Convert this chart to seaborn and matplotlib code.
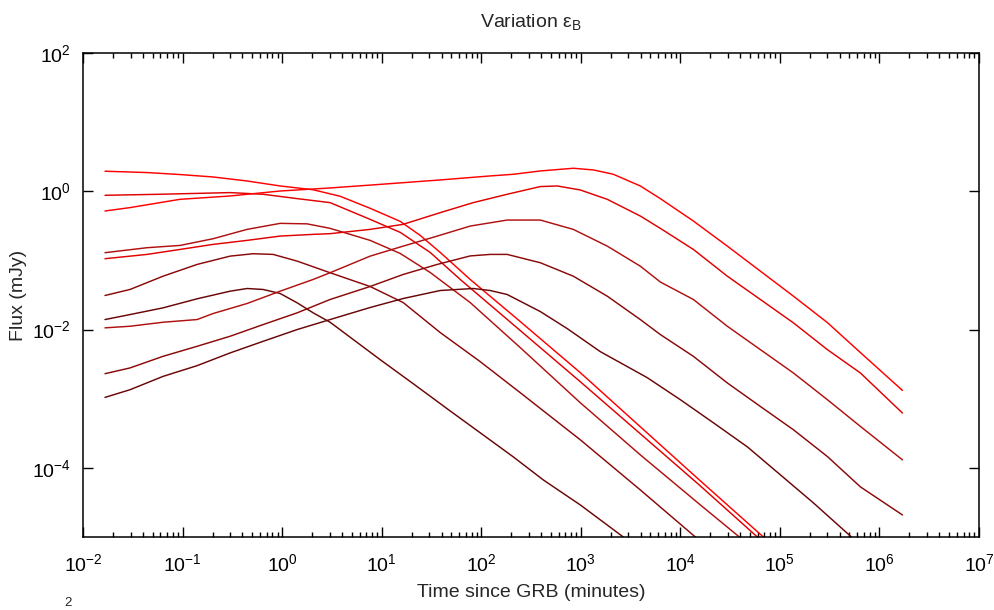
import numpy as np
import pandas as pd
import matplotlib
matplotlib.use("Agg")
import matplotlib.pyplot as plt
import seaborn as sns
from matplotlib.ticker import FixedLocator, FixedFormatter, LogLocator, NullFormatter, NullLocator

# ---- data: log10(time [min]) and log10(flux [mJy]) ----
# early-peaking family
logt_E1 = [-1.779, -1.357, -1.025, -0.693, -0.352, -0.020, 0.312, 0.583, 0.884, 1.186, 1.387, 1.588, 1.889, 2.392, 2.995, 3.598, 4.201, 4.834]
logf_E1 = [0.290, 0.271, 0.242, 0.207, 0.149, 0.077, 0.022, -0.072, -0.246, -0.435, -0.638, -0.884, -1.275, -1.884, -2.623, -3.406, -4.188, -5.0]

logt_E2 = [-1.779, -1.226, -0.523, -0.191, 0.151, 0.482, 0.884, 1.186, 1.487, 1.789, 2.392, 2.995, 3.598, 4.201, 4.774]
logf_E2 = [-0.058, -0.043, -0.019, -0.043, -0.106, -0.164, -0.406, -0.594, -0.884, -1.275, -2.014, -2.754, -3.507, -4.261, -5.0]

logt_E3 = [-1.779, -1.357, -1.025, -0.693, -0.352, -0.020, 0.251, 0.482, 0.884, 1.186, 1.487, 1.889, 2.392, 2.995, 3.598, 4.201, 4.593]
logf_E3 = [-0.888, -0.816, -0.783, -0.686, -0.551, -0.464, -0.471, -0.536, -0.710, -0.899, -1.174, -1.609, -2.261, -3.058, -3.812, -4.536, -5.0]

logt_E4 = [-1.779, -1.528, -1.196, -0.854, -0.523, -0.291, -0.090, 0.151, 0.482, 0.884, 1.216, 1.588, 1.990, 2.392, 2.995, 3.598, 4.151]
logf_E4 = [-1.507, -1.420, -1.228, -1.058, -0.938, -0.903, -0.913, -1.010, -1.178, -1.377, -1.609, -2.043, -2.464, -2.913, -3.594, -4.319, -5.0]

logt_E5 = [-1.779, -1.528, -1.196, -0.854, -0.523, -0.352, -0.191, -0.020, 0.151, 0.312, 0.482, 0.985, 1.317, 1.658, 1.990, 2.322, 2.623, 2.995, 3.427]
logf_E5 = [-1.855, -1.783, -1.686, -1.555, -1.445, -1.406, -1.420, -1.478, -1.613, -1.758, -1.894, -2.435, -2.783, -3.145, -3.493, -3.841, -4.174, -4.536, -5.0]

# late-peaking family
logt_L1 = [-1.779, -1.528, -1.025, -0.523, -0.020, 0.482, 0.995, 1.588, 2.090, 2.322, 2.593, 2.925, 3.126, 3.327, 3.598, 3.799, 4.131, 4.472, 4.804, 5.136, 5.477, 5.809, 6.231]
logf_L1 = [-0.285, -0.236, -0.116, -0.068, 0.004, 0.048, 0.101, 0.164, 0.222, 0.246, 0.294, 0.333, 0.309, 0.246, 0.077, -0.106, -0.430, -0.793, -1.155, -1.517, -1.899, -2.333, -2.880]

logt_L2 = [-1.779, -1.357, -1.025, -0.693, -0.352, -0.020, 0.312, 0.482, 0.884, 1.216, 1.588, 1.920, 2.261, 2.593, 2.764, 2.995, 3.266, 3.598, 3.799, 4.131, 4.472, 4.804, 5.136, 5.477, 5.809, 6.231]
logf_L2 = [-0.975, -0.913, -0.841, -0.768, -0.710, -0.648, -0.623, -0.613, -0.551, -0.478, -0.309, -0.164, -0.043, 0.068, 0.077, 0.019, -0.116, -0.358, -0.536, -0.841, -1.228, -1.565, -1.903, -2.290, -2.628, -3.207]

logt_L3 = [-1.779, -1.528, -1.196, -0.854, -0.693, -0.352, -0.020, 0.312, 0.482, 0.884, 1.216, 1.558, 1.889, 2.261, 2.593, 2.925, 3.266, 3.598, 3.799, 4.131, 4.472, 4.804, 5.136, 5.477, 5.809, 6.231]
logf_L3 = [-1.975, -1.952, -1.894, -1.855, -1.768, -1.623, -1.445, -1.275, -1.178, -0.938, -0.793, -0.648, -0.503, -0.416, -0.416, -0.551, -0.793, -1.083, -1.312, -1.565, -1.952, -2.290, -2.628, -3.014, -3.401, -3.884]

logt_L4 = [-1.779, -1.528, -1.196, -0.854, -0.523, -0.191, 0.151, 0.482, 0.884, 1.216, 1.558, 1.889, 2.090, 2.261, 2.593, 2.925, 3.266, 3.598, 3.799, 4.131, 4.472, 4.804, 5.136, 5.477, 5.809, 6.231]
logf_L4 = [-2.638, -2.555, -2.387, -2.242, -2.097, -1.928, -1.758, -1.565, -1.377, -1.203, -1.058, -0.935, -0.913, -0.913, -1.033, -1.228, -1.517, -1.855, -2.072, -2.387, -2.772, -3.112, -3.449, -3.836, -4.275, -4.681]

logt_L5 = [-1.779, -1.528, -1.196, -0.854, -0.523, -0.191, 0.151, 0.482, 0.884, 1.216, 1.588, 1.920, 2.090, 2.261, 2.593, 2.864, 3.196, 3.668, 4.000, 4.332, 4.673, 5.005, 5.337, 5.719]
logf_L5 = [-2.981, -2.870, -2.677, -2.522, -2.338, -2.170, -2.000, -1.855, -1.681, -1.551, -1.435, -1.406, -1.435, -1.493, -1.739, -1.986, -2.319, -2.696, -3.014, -3.348, -3.696, -4.101, -4.507, -5.0]

curve_names = ["E1", "E2", "E3", "E4", "E5", "L1", "L2", "L3", "L4", "L5"]
curve_colors = {
    "E1": "#ff0000", "L1": "#ff0000",
    "E2": "#e00000", "L2": "#e00000",
    "E3": "#b01010", "L3": "#b01010",
    "E4": "#8a0808", "L4": "#8a0808",
    "E5": "#6a0505", "L5": "#6a0505",
}

x_tick_exps = [-2, -1, 0, 1, 2, 3, 4, 5, 6, 7]
y_tick_exps = [-4, -2, 0, 2]

# ---- build long-form table ----
series = {
    "E1": (logt_E1, logf_E1), "E2": (logt_E2, logf_E2), "E3": (logt_E3, logf_E3),
    "E4": (logt_E4, logf_E4), "E5": (logt_E5, logf_E5), "L1": (logt_L1, logf_L1),
    "L2": (logt_L2, logf_L2), "L3": (logt_L3, logf_L3), "L4": (logt_L4, logf_L4),
    "L5": (logt_L5, logf_L5),
}
rows = []
for name in curve_names:
    lt, lf = series[name]
    for a, b in zip(lt, lf):
        rows.append({"curve": name, "time": 10.0 ** a, "flux": 10.0 ** b})
df = pd.DataFrame(rows)

# ---- style ----
sns.set_style("white")
plt.rcParams["font.family"] = ["Liberation Sans", "DejaVu Sans"]
plt.rcParams["mathtext.fontset"] = "custom"
plt.rcParams["mathtext.rm"] = "Liberation Sans"
plt.rcParams["mathtext.it"] = "Liberation Sans:italic"
plt.rcParams["mathtext.default"] = "regular"

fig = plt.figure(figsize=(9.95, 6.10), dpi=100)
ax = fig.add_axes([83 / 995, 1 - 537 / 610, (979 - 83) / 995, (537 - 53) / 610])

sns.lineplot(data=df, x="time", y="flux", hue="curve", hue_order=curve_names,
             palette=curve_colors, estimator=None, sort=False, legend=False,
             linewidth=1.05, ax=ax)

ax.set_xscale("log")
ax.set_yscale("log")
ax.set_xlim(1e-2, 1e7)
ax.set_ylim(1e-5, 1e2)

ax.xaxis.set_major_locator(FixedLocator([10.0 ** e for e in x_tick_exps]))
ax.xaxis.set_major_formatter(FixedFormatter([r"$10^{%d}$" % e for e in x_tick_exps]))
ax.xaxis.set_minor_locator(LogLocator(base=10, subs=np.arange(2, 10), numticks=20))
ax.xaxis.set_minor_formatter(NullFormatter())
ax.yaxis.set_major_locator(FixedLocator([10.0 ** e for e in y_tick_exps]))
ax.yaxis.set_major_formatter(FixedFormatter([r"$10^{%d}$" % e for e in y_tick_exps]))
ax.yaxis.set_minor_locator(NullLocator())

ax.tick_params(axis="both", which="both", direction="in", top=True, right=True,
               bottom=True, left=True, colors="black", labelsize=14)
ax.tick_params(axis="both", which="major", length=7, width=1.0)
ax.tick_params(axis="both", which="minor", length=3.5, width=1.0)
ax.tick_params(axis="x", which="major", pad=12)
ax.tick_params(axis="y", which="major", pad=9)

for sp in ax.spines.values():
    sp.set_visible(True)
    sp.set_color("black")
    sp.set_linewidth(1.1)

ax.set_xlabel("Time since GRB (minutes)", fontsize=14, labelpad=6)
ax.set_ylabel("Flux (mJy)", fontsize=14, labelpad=3)
ax.set_title(r"Variation ε$_{B}$", fontsize=14, pad=19)
ax.grid(False)

# stray superscript fragment visible at the bottom-left of the reference
fig.text(68 / 995, 1 - 597 / 610, "2", fontsize=9.5, ha="center", va="top")

fig.savefig("out.png", dpi=100)
